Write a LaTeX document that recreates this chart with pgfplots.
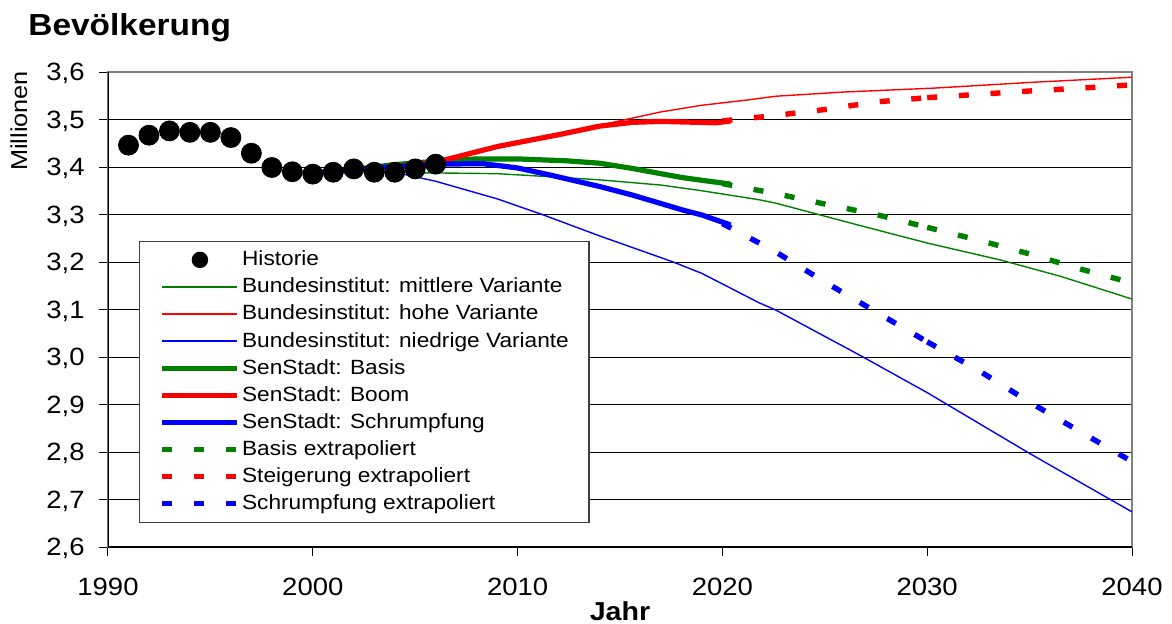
\documentclass[border=0pt]{standalone}
\usepackage{fontspec}
\setmainfont{Liberation Sans}[FakeStretch=1.1]
\usepackage{pgfplots}
\pgfplotsset{compat=1.18}
\definecolor{xgreen}{RGB}{0,128,0}
\definecolor{xred}{RGB}{255,0,0}
\definecolor{xblue}{RGB}{0,0,255}
\pgfplotsset{
  thinline/.style={line width=0.7pt},
  thickline/.style={line width=2.6pt},
  dashline/.style={line width=2.7pt, dash pattern=on 5pt off 10.85pt},
}
\begin{document}
\begin{tikzpicture}
\useasboundingbox (-54pt,-38pt) rectangle (532pt,273.5pt);
\begin{axis}[
  scale only axis, width=512pt, height=237.5pt,
  at={(0pt,0pt)}, anchor=south west,
  xmin=1990, xmax=2040, ymin=2.6, ymax=3.6,
  xtick={1990,2000,2010,2020,2030,2040},
  ytick={2.6,2.7,2.8,2.9,3.0,3.1,3.2,3.3,3.4,3.5,3.6},
  xtick pos=bottom, ytick pos=left, tick align=outside,
  major tick length=4.5pt,
  tick style={black, line width=0.5pt},
  axis line style={draw=gray, line width=1pt},
  ymajorgrids, grid style={black, line width=0.5pt},
  /pgf/number format/assume math mode=true,
  x tick label style={/pgf/number format/.cd, 1000 sep={}, /tikz/.cd,
     font=\fontsize{12.5}{15}\selectfont, anchor=base, inner sep=0pt, yshift=-19.5pt},
  y tick label style={/pgf/number format/.cd, fixed, fixed zerofill, precision=1, use comma, /tikz/.cd,
     font=\fontsize{12.5}{15}\selectfont, anchor=east, inner sep=0pt, text depth=0pt, xshift=-7pt},
  legend image code/.code={\draw[#1] (0pt,0pt) -- (37.5pt,0pt);},
  legend cell align=left,
  legend style={at={(0.0303,0.0505)}, anchor=south west, draw=black!75, line width=0.7pt,
     fill=white, font=\fontsize{10.3}{12}\selectfont, inner xsep=10pt, inner ysep=2.5pt,
     row sep=0pt, column sep=1pt,
     nodes={inner sep=0pt, text height=9.7pt, text depth=3.85pt}},
]
% legend entries
\addlegendimage{legend image code/.code={\fill[black] (18.75pt,0pt) circle (3.75pt);}}
\addlegendentry{Historie}
\addlegendimage{xgreen, thinline}
\addlegendentry{Bundesinstitut: mittlere Variante}
\addlegendimage{xred, thinline}
\addlegendentry{Bundesinstitut: hohe Variante}
\addlegendimage{xblue, thinline}
\addlegendentry{Bundesinstitut: niedrige Variante}
\addlegendimage{xgreen, thickline}
\addlegendentry{SenStadt: Basis}
\addlegendimage{xred, thickline}
\addlegendentry{SenStadt: Boom}
\addlegendimage{xblue, thickline}
\addlegendentry{SenStadt: Schrumpfung}
\addlegendimage{xgreen, dashline}
\addlegendentry{Basis extrapoliert}
\addlegendimage{xred, dashline}
\addlegendentry{Steigerung extrapoliert}
\addlegendimage{xblue, dashline}
\addlegendentry{Schrumpfung extrapoliert}

% Bundesinstitut: mittlere Variante
\addplot[xgreen, thinline, forget plot] coordinates {
(2003,3.390) (2005,3.388) (2009,3.386) (2011,3.381) (2014,3.373) (2017,3.362)
(2019,3.350) (2021.8,3.331) (2022.6,3.324) (2026.7,3.277) (2030,3.240)
(2033.6,3.204) (2036.5,3.170) (2040,3.122)};
% Bundesinstitut: hohe Variante
\addplot[xred, thinline, forget plot] coordinates {
(2005,3.400) (2006,3.410) (2009,3.440) (2012,3.468) (2014,3.488) (2017,3.516)
(2019,3.530) (2021.2,3.541) (2022.6,3.549) (2026,3.558) (2030.3,3.566)
(2035,3.578) (2040,3.589)};
% Bundesinstitut: niedrige Variante
\addplot[xblue, thinline, forget plot] coordinates {
(2003,3.390) (2004,3.389) (2006,3.370) (2009,3.333) (2011.2,3.300) (2014,3.255)
(2017.6,3.200) (2019,3.176) (2021.8,3.114) (2022.6,3.099) (2026.7,3.004)
(2030,2.925) (2035,2.797) (2040,2.674)};
% SenStadt: Basis
\addplot[xgreen, thickline, forget plot] coordinates {
(2001,3.390) (2004,3.405) (2006,3.412) (2008,3.417) (2010,3.417) (2012.4,3.413)
(2014,3.408) (2015.6,3.397) (2018,3.378) (2019,3.372) (2020.4,3.364)};
% SenStadt: Boom
\addplot[xred, thickline, forget plot] coordinates {
(2001,3.390) (2004,3.400) (2006,3.410) (2009,3.443) (2012,3.468) (2014,3.486)
(2015.6,3.494) (2017,3.496) (2019.7,3.493) (2020.4,3.497)};
% SenStadt: Schrumpfung
\addplot[xblue, thickline, forget plot] coordinates {
(2000,3.388) (2003,3.398) (2006,3.406) (2008.3,3.407) (2010,3.398) (2011.6,3.383)
(2014,3.359) (2015.6,3.341) (2018.1,3.309) (2019,3.299) (2020.4,3.278)};
% Basis extrapoliert
\addplot[xgreen, dashline, forget plot] coordinates {
(2020,3.365) (2022.5,3.345) (2025,3.322) (2027.5,3.300) (2030,3.273)};
\addplot[xgreen, dashline, forget plot] coordinates {
(2030,3.273) (2032.5,3.246) (2035,3.217) (2037.5,3.185) (2040,3.156)};
% Steigerung extrapoliert
\addplot[xred, dashline, forget plot] coordinates {
(2020,3.497) (2022.5,3.508) (2025,3.521) (2027.5,3.537) (2030,3.546)};
\addplot[xred, dashline, forget plot] coordinates {
(2030,3.546) (2032.5,3.553) (2035,3.560) (2037.5,3.566) (2040,3.573)};
% Schrumpfung extrapoliert
\addplot[xblue, dashline, forget plot] coordinates {
(2020,3.281) (2022.5,3.224) (2025,3.158) (2027.5,3.095) (2030,3.032)};
\addplot[xblue, dashline, forget plot] coordinates {
(2030,3.032) (2032.5,2.972) (2035,2.905) (2037.5,2.842) (2040,2.780)};
% Historie
\addplot[only marks, mark=*, mark size=5pt, black, forget plot] coordinates {
(1991,3.446) (1992,3.467) (1993,3.476) (1994,3.473) (1995,3.473) (1996,3.462)
(1997,3.429) (1998,3.399) (1999,3.390) (2000,3.385) (2001,3.389) (2002,3.396)
(2003,3.389) (2004,3.389) (2005,3.396) (2006,3.406)};
\draw[black, line width=0.6pt] (rel axis cs:0,1) -- (rel axis cs:0,0) -- (rel axis cs:1,0);
\end{axis}
\node[anchor=base west, inner sep=0pt, font=\bfseries\fontsize{15.2}{18}\selectfont] at (-40pt,256pt) {Bevölkerung};
\node[rotate=90, inner sep=0pt, font=\fontsize{11.5}{14}\selectfont] at (-44.5pt,213pt) {Millionen};
\node[anchor=base, inner sep=0pt, font=\bfseries\fontsize{13}{15}\selectfont] at (256pt,-36.75pt) {Jahr};
\end{tikzpicture}
\end{document}
